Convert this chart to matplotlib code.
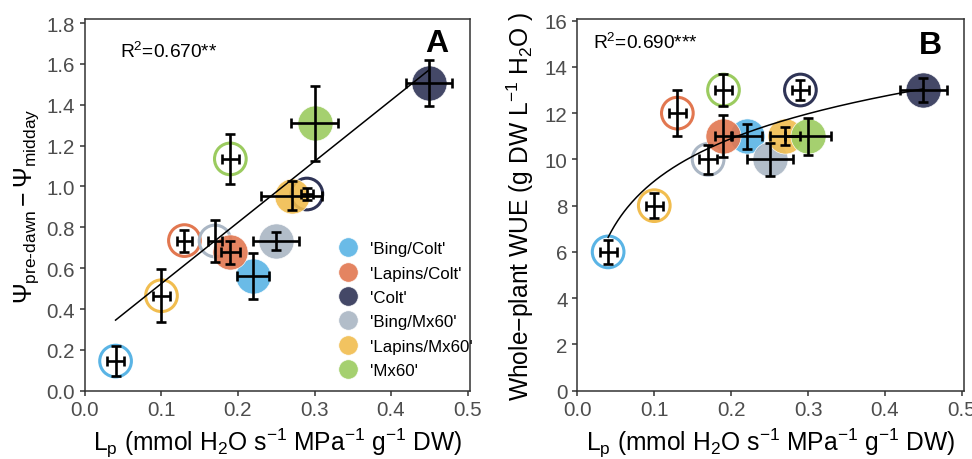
import matplotlib
matplotlib.use("Agg")
import matplotlib.pyplot as plt
from matplotlib.lines import Line2D
import numpy as np

plt.rcParams['font.family'] = ['Liberation Sans', 'DejaVu Sans']
plt.rcParams['mathtext.fontset'] = 'custom'
plt.rcParams['mathtext.rm'] = 'Liberation Sans'
plt.rcParams['mathtext.it'] = 'Liberation Sans:italic'
plt.rcParams['mathtext.bf'] = 'Liberation Sans:bold'

# genotypes and colours
genotypes = ["'Bing/Colt'", "'Lapins/Colt'", "'Colt'", "'Bing/Mx60'", "'Lapins/Mx60'", "'Mx60'"]
colors = ['#5AB4E5', '#E27750', '#2F3456', '#AAB6C4', '#F1BD4F', '#9BCB5F']

# panel A: open symbols
a_open_x = [0.04, 0.13, 0.29, 0.17, 0.10, 0.19]
a_open_y = [0.145, 0.735, 0.963, 0.733, 0.465, 1.135]
a_open_xerr = [0.011, 0.010, 0.008, 0.009, 0.011, 0.011]
a_open_yerr = [0.072, 0.054, 0.030, 0.102, 0.130, 0.121]
# panel A: filled symbols
a_fill_x = [0.22, 0.19, 0.45, 0.25, 0.27, 0.30]
a_fill_y = [0.563, 0.677, 1.505, 0.734, 0.955, 1.310]
a_fill_xerr = [0.021, 0.012, 0.030, 0.030, 0.040, 0.031]
a_fill_yerr = [0.112, 0.058, 0.112, 0.044, 0.072, 0.183]
a_fit_intercept = 0.226
a_fit_slope = 2.99
a_fit_range = [0.04, 0.45]

# panel B: open symbols
b_open_x = [0.04, 0.13, 0.29, 0.17, 0.10, 0.19]
b_open_y = [6.0, 12.0, 13.0, 10.0, 8.0, 13.0]
b_open_xerr = [0.011, 0.011, 0.011, 0.012, 0.011, 0.011]
b_open_yerr = [0.52, 1.0, 0.43, 0.62, 0.55, 0.70]
# panel B: filled symbols
b_fill_x = [0.22, 0.19, 0.45, 0.25, 0.27, 0.30]
b_fill_y = [11.0, 11.0, 13.0, 10.0, 11.0, 11.0]
b_fill_xerr = [0.020, 0.011, 0.030, 0.030, 0.020, 0.030]
b_fill_yerr = [0.54, 0.90, 0.53, 0.70, 0.39, 0.80]
b_fit_a = 15.17
b_fit_b = 2.653
b_fit_range = [0.04, 0.45]

fig = plt.figure(figsize=(9.72, 4.6), dpi=100)
axA = fig.add_axes([0.0874, 0.1485, 0.396, 0.808])
axB = fig.add_axes([0.594, 0.1485, 0.398, 0.808])

def draw_panel(ax, ox, oy, oxe, oye, fx, fy, fxe, fye, fit_x, fit_y):
    for i in range(len(genotypes)):
        ax.scatter(ox[i], oy[i], s=520, facecolors='none', edgecolors=colors[i],
                   linewidths=2.2, zorder=2)
    for i in range(len(genotypes)):
        ax.scatter(fx[i], fy[i], s=640, color=colors[i], alpha=0.9,
                   edgecolors=(1, 1, 1, 0.6), linewidths=0.5, zorder=3)
    ax.plot(fit_x, fit_y, color='black', lw=1.1, zorder=4)
    ax.errorbar(ox, oy, xerr=oxe, yerr=oye, fmt='none', ecolor='black',
                elinewidth=1.9, capsize=3.4, capthick=1.9, zorder=5)
    ax.errorbar(fx, fy, xerr=fxe, yerr=fye, fmt='none', ecolor='black',
                elinewidth=1.9, capsize=3.4, capthick=1.9, zorder=5)
    for sp in ax.spines.values():
        sp.set_color('#333333')
        sp.set_linewidth(1.1)
    ax.tick_params(direction='out', length=3.5, width=1.1, color='#333333',
                   labelcolor='#4D4D4D', labelsize=14.8)
    ax.set_xlim(0, 0.503)
    ax.set_xticks([0.0, 0.1, 0.2, 0.3, 0.4, 0.5])
    ax.set_xticklabels(['0.0', '0.1', '0.2', '0.3', '0.4', '0.5'])
    ax.set_xlabel(r'L$_\mathrm{p}$ (mmol H$_2$O s$^{-1}$ MPa$^{-1}$ g$^{-1}$ DW)', fontsize=17.7,
                  labelpad=5)

xa = np.linspace(a_fit_range[0], a_fit_range[1], 100)
draw_panel(axA, a_open_x, a_open_y, a_open_xerr, a_open_yerr,
           a_fill_x, a_fill_y, a_fill_xerr, a_fill_yerr,
           xa, a_fit_intercept + a_fit_slope * xa)
axA.set_ylim(0, 1.82)
axA.set_yticks(np.arange(0, 1.81, 0.2))
axA.set_yticklabels(['0.0', '0.2', '0.4', '0.6', '0.8', '1.0', '1.2', '1.4', '1.6', '1.8'])
axA.set_ylabel(r'$\Psi_{\mathrm{pre\text{-}dawn}} - \Psi_{\mathrm{midday}}$', fontsize=17.8, labelpad=4)
axA.text(0.091, 0.914, r'R$^2$=0.670**', transform=axA.transAxes, fontsize=13.8, va='center')
axA.text(0.943, 0.935, 'A', transform=axA.transAxes, fontsize=23, fontweight='bold',
         ha='right', va='center')

handles = [Line2D([], [], marker='o', ls='none', markersize=14, color=c, alpha=0.9,
                  markeredgecolor=(1, 1, 1, 0.6), markeredgewidth=0.5) for c in colors]
axA.legend(handles, genotypes, loc='lower left', bbox_to_anchor=(0.635, 0.016),
           frameon=False, fontsize=12.2, handletextpad=0.6, labelspacing=0.55,
           borderaxespad=0.0, handlelength=1.4)

xb = np.linspace(b_fit_range[0], b_fit_range[1], 200)
draw_panel(axB, b_open_x, b_open_y, b_open_xerr, b_open_yerr,
           b_fill_x, b_fill_y, b_fill_xerr, b_fill_yerr,
           xb, b_fit_a + b_fit_b * np.log(xb))
axB.set_ylim(0, 16.07)
axB.set_yticks(np.arange(0, 17, 2))
axB.set_ylabel('Whole\u2212plant WUE (g DW L$^{-1}$ H$_2$O )', fontsize=17.7, labelpad=6)
axB.text(0.041, 0.938, r'R$^2$=0.690***', transform=axB.transAxes, fontsize=13.8, va='center')
axB.text(0.942, 0.93, 'B', transform=axB.transAxes, fontsize=23, fontweight='bold',
         ha='right', va='center')

fig.savefig('out.png', dpi=100)
